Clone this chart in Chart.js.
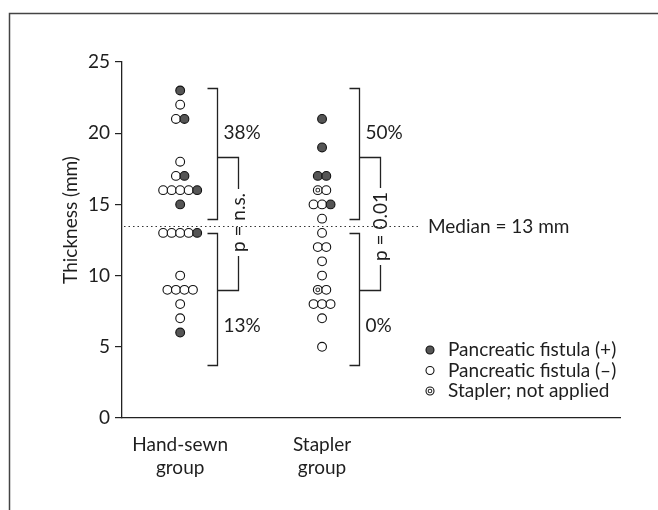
<!DOCTYPE html>
<html><head><meta charset="utf-8">
<script src="https://cdn.jsdelivr.net/npm/chart.js@4/dist/chart.umd.min.js"></script>
<style>html,body{margin:0;padding:0;background:#fff}#wrap{width:658px;height:510px;position:relative}</style>
</head><body><div id="wrap"><canvas id="c"></canvas></div>
<script>
// ---- data ----
const categories = [["Hand-sewn", "group"], ["Stapler", "group"]];
const fistulaPos = [[23, 21, 17, 16, 15, 13, 6], [21, 19, 17, 17, 15]];
const fistulaNeg = [[22, 21, 18, 17, 16, 16, 16, 16, 13, 13, 13, 13, 10, 9, 9, 9, 9, 8, 7],
                    [16, 15, 15, 14, 13, 12, 12, 11, 10, 9, 8, 8, 8, 7, 5]];
const notApplied = [[], [16, 9]];
const yTicks = [0, 5, 10, 15, 20, 25];
const legendLabels = ["Pancreatic fistula (+)", "Pancreatic fistula (\u2013)", "Stapler; not applied"];
const percentUpper = ["38%", "50%"];
const percentLower = ["13%", "0%"];
const pLabels = ["p = n.s.", "p = 0.01"];
const medianValue = 13.45;
const medianLabel = "Median = 13 mm";
const bracketUpper = [14.0, 23.2];
const bracketLower = [3.7, 13.0];
const connectorEnds = [18.3, 9.0];
const percentY = [20.0, 6.5];
const yTitle = "Thickness (mm)";

// ---- styling / layout ----
const FONT = "Lato";
const FS = 19;
const INK = "#1e1e1e";
const DOT_SPREAD = 0.06;   // x-units between neighbouring dots
const R = 4.4;

function buildPoints(groups, kind) {
  const pts = [];
  groups.forEach((vals, g) => {
    vals.forEach(v => {
      const row = [];
      notApplied[g].forEach(a => { if (a === v) row.push('na'); });
      fistulaNeg[g].forEach(a => { if (a === v) row.push('neg'); });
      fistulaPos[g].forEach(a => { if (a === v) row.push('pos'); });
      const n = row.length;
      const already = pts.filter(p => p.g === g && p.y === v).length;
      let k = -1, seen = 0;
      for (let i = 0; i < n; i++) { if (row[i] === kind) { if (seen === already) { k = i; break; } seen++; } }
      pts.push({ x: g + 1 + (k - (n - 1) / 2) * DOT_SPREAD, y: v, g: g });
    });
  });
  return pts;
}

const decor = {
  id: 'decor',
  beforeDraw(chart) {
    const ctx = chart.ctx;
    ctx.save();
    ctx.fillStyle = '#fff';
    ctx.fillRect(0, 0, chart.width, chart.height);
    ctx.strokeStyle = '#444'; ctx.lineWidth = 1.5;
    ctx.beginPath(); ctx.moveTo(9.5, 510); ctx.lineTo(9.5, 13.5); ctx.lineTo(658, 13.5); ctx.stroke();
    ctx.restore();
  },
  afterDatasetsDraw(chart) {
    const ctx = chart.ctx, xs = chart.scales.x, ys = chart.scales.y, a = chart.chartArea;
    ctx.save();
    ctx.font = FS + "px " + FONT;
    ctx.fillStyle = INK;
    // y title
    ctx.save();
    ctx.translate(71, 220); ctx.rotate(-Math.PI / 2);
    ctx.textAlign = 'center'; ctx.textBaseline = 'middle';
    ctx.fillText(yTitle, 0, 0);
    ctx.restore();
    // median line
    const my = Math.round(ys.getPixelForValue(medianValue)) + 0.5;
    ctx.strokeStyle = '#333'; ctx.lineWidth = 1.2; ctx.setLineDash([1.5, 3]);
    ctx.beginPath(); ctx.moveTo(a.left + 2, my); ctx.lineTo(xs.getPixelForValue(2.676), my); ctx.stroke();
    ctx.setLineDash([]);
    ctx.textAlign = 'left'; ctx.textBaseline = 'middle';
    ctx.fillText(medianLabel, xs.getPixelForValue(2.746), my);
    // brackets
    ctx.strokeStyle = '#222'; ctx.lineWidth = 1.3;
    categories.forEach((c, g) => {
      const bx = Math.round(xs.getPixelForValue(g + 1 + 0.26)) + 0.5;
      const cx = Math.round(xs.getPixelForValue(g + 1 + 0.41)) + 0.5;
      const t = 10;
      const yp = v => Math.round(ys.getPixelForValue(v)) + 0.5;
      [bracketUpper, bracketLower].forEach(b => {
        ctx.beginPath();
        ctx.moveTo(bx - t, yp(b[1])); ctx.lineTo(bx, yp(b[1])); ctx.lineTo(bx, yp(b[0])); ctx.lineTo(bx - t, yp(b[0]));
        ctx.stroke();
      });
      const tw = ctx.measureText(pLabels[g]).width;
      const tc = yp(13.75) + (g === 1 ? 4 : 0);
      ctx.beginPath();
      ctx.moveTo(bx, yp(connectorEnds[0])); ctx.lineTo(cx, yp(connectorEnds[0])); ctx.lineTo(cx, tc - tw / 2 - 4);
      ctx.moveTo(cx, tc + tw / 2 + 4); ctx.lineTo(cx, yp(connectorEnds[1])); ctx.lineTo(bx, yp(connectorEnds[1]));
      ctx.stroke();
      ctx.save();
      ctx.translate(cx, tc); ctx.rotate(-Math.PI / 2);
      ctx.textAlign = 'center'; ctx.textBaseline = 'middle';
      ctx.fillText(pLabels[g], 0, 0);
      ctx.restore();
      ctx.textAlign = 'left'; ctx.textBaseline = 'middle';
      ctx.fillText(percentUpper[g], bx + 6, ys.getPixelForValue(percentY[0]));
      ctx.fillText(percentLower[g], bx + 6, ys.getPixelForValue(percentY[1]));
    });
    // legend
    const lx = 430, ly0 = 350, dy = 20.5;
    legendLabels.forEach((lab, i) => {
      const y = ly0 + i * dy;
      ctx.beginPath(); ctx.arc(lx, y, R - 0.4, 0, Math.PI * 2);
      ctx.fillStyle = i === 0 ? '#555' : '#fff'; ctx.fill();
      ctx.lineWidth = 1.1; ctx.strokeStyle = '#111'; ctx.stroke();
      if (i === 2) {
        ctx.beginPath(); ctx.arc(lx, y, 1.8, 0, Math.PI * 2);
        ctx.strokeStyle = '#333'; ctx.stroke();
      }
      ctx.fillStyle = INK;
      ctx.textAlign = 'left'; ctx.textBaseline = 'middle';
      ctx.fillText(lab, lx + 18, y);
    });
    ctx.restore();
  }
};

const naPoints = buildPoints(notApplied, 'na');

new Chart(document.getElementById('c'), {
  type: 'scatter',
  data: {
    datasets: [
      { label: legendLabels[2] + ' (inner)', data: naPoints, pointStyle: 'circle', pointRadius: 1.9,
        backgroundColor: '#fff', borderColor: '#333', borderWidth: 1.1 },
      { label: legendLabels[0], data: buildPoints(fistulaPos, 'pos'), pointStyle: 'circle', pointRadius: R,
        backgroundColor: '#555', borderColor: '#111', borderWidth: 1.1 },
      { label: legendLabels[1], data: buildPoints(fistulaNeg, 'neg'), pointStyle: 'circle', pointRadius: R,
        backgroundColor: '#fff', borderColor: '#111', borderWidth: 1.1 },
      { label: legendLabels[2], data: naPoints, pointStyle: 'circle', pointRadius: R,
        backgroundColor: '#fff', borderColor: '#111', borderWidth: 1.1 }
    ]
  },
  options: {
    responsive: true, maintainAspectRatio: false, animation: false,
    layout: { padding: { left: 0, right: 38, top: 62, bottom: 0 } },
    plugins: { legend: { display: false }, tooltip: { enabled: false } },
    scales: {
      x: {
        type: 'linear', min: 0.59, max: 4.1,
        afterBuildTicks: s => { s.ticks = categories.map((c, i) => ({ value: i + 1 })); },
        afterFit: s => { s.height = 92; },
        grid: { display: false },
        border: { display: true, color: '#222', width: 1.3 },
        ticks: { autoSkip: false, maxRotation: 0, padding: 8, color: INK,
          font: { family: FONT, size: FS, lineHeight: 1.18 },
          callback: v => categories[Math.round(v) - 1] }
      },
      y: {
        min: 0, max: 25,
        afterBuildTicks: s => { s.ticks = yTicks.map(v => ({ value: v })); },
        afterFit: s => { s.width = 122; },
        grid: { drawOnChartArea: false, drawTicks: true, tickLength: 7, color: '#222', lineWidth: 1.2 },
        border: { display: true, color: '#222', width: 1.3 },
        ticks: { color: INK, padding: 5, font: { family: FONT, size: FS } }
      }
    }
  },
  plugins: [decor]
});
</script>
</body></html>
